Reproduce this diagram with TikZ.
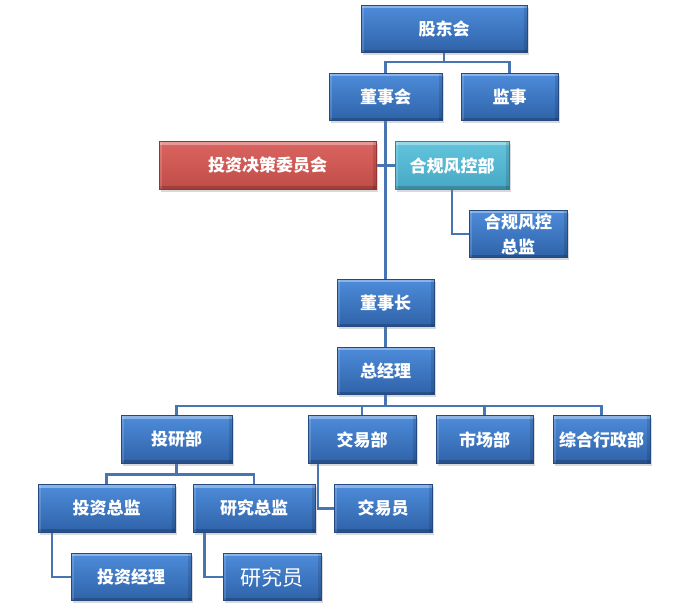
\documentclass[tikz,border=0pt]{standalone}
\usepackage{fontspec}
\newfontfamily\cjk{Noto Sans CJK SC}
\usetikzlibrary{shadows,calc,backgrounds}
\definecolor{bluetop}{RGB}{78,140,218}
\definecolor{bluebot}{RGB}{46,98,168}
\definecolor{blueline}{RGB}{36,74,130}
\definecolor{redtop}{RGB}{218,100,96}
\definecolor{redbot}{RGB}{192,76,72}
\definecolor{redline}{RGB}{150,52,50}
\definecolor{tealtop}{RGB}{98,196,220}
\definecolor{tealbot}{RGB}{70,168,196}
\definecolor{tealline}{RGB}{50,130,155}
\definecolor{conn}{RGB}{72,116,178}
\tikzset{
  box/.style={rectangle, minimum height=47.5, inner sep=0pt, draw=blueline, line width=0.8pt,
    top color=bluetop, bottom color=bluebot, text=white, font=\cjk\bfseries\fontsize{17}{19}\selectfont,
    drop shadow={shadow xshift=2pt, shadow yshift=-2.5pt, opacity=0.3},
    path picture={
      \draw[white, opacity=0.35, line width=3pt] ([yshift=-1.5pt]path picture bounding box.north west) -- ([yshift=-1.5pt]path picture bounding box.north east);
      \draw[black, opacity=0.18, line width=3pt] ([yshift=1.5pt]path picture bounding box.south west) -- ([yshift=1.5pt]path picture bounding box.south east);
      \draw[black, opacity=0.12, line width=3pt] ([xshift=-1.5pt]path picture bounding box.south east) -- ([xshift=-1.5pt]path picture bounding box.north east);
      \draw[white, opacity=0.15, line width=3pt] ([xshift=1.5pt]path picture bounding box.south west) -- ([xshift=1.5pt]path picture bounding box.north west);
    }},
  redbox/.style={box, top color=redtop, bottom color=redbot, draw=redline},
  tealbox/.style={box, top color=tealtop, bottom color=tealbot, draw=tealline},
  conn/.style={draw=conn, line width=2.6pt},
}
\begin{document}
\begin{tikzpicture}[x=1pt, y=-1pt]
\useasboundingbox (0,0) rectangle (687,611);
\node[box, minimum width=166] (gd) at (444,29) {股东会};
\node[box, minimum width=113] (dsh) at (385.5,97) {董事会};
\node[box, minimum width=97] (js) at (509.5,97) {监事};
\node[redbox, minimum width=217] (tzjc) at (267.5,165.5) {投资决策委员会};
\node[tealbox, minimum width=114] (hgfk) at (452,165.5) {合规风控部};
\node[box, minimum width=98, align=center, font=\cjk\bfseries\fontsize{17}{25}\selectfont] (hgzj) at (518,234) {合规风控\\总监};
\node[box, minimum width=97] (dsz) at (385.5,303) {董事长};
\node[box, minimum width=97] (zjl) at (385.5,371) {总经理};
\node[box, minimum width=111] (tyb) at (176.5,439.5) {投研部};
\node[box, minimum width=108] (jyb) at (362,439.5) {交易部};
\node[box, minimum width=97] (scb) at (484.5,439.5) {市场部};
\node[box, minimum width=97] (zhxz) at (601.5,439.5) {综合行政部};
\node[box, minimum width=137] (tzzj) at (106.5,508.5) {投资总监};
\node[box, minimum width=122] (yjzj) at (254,508.5) {研究总监};
\node[box, minimum width=98] (jyy) at (383,508.5) {交易员};
\node[box, minimum width=120] (tzjl) at (131,577) {投资经理};
\node[box, minimum width=98, font=\cjk\fontsize{21}{23}\selectfont] (yjy) at (272,577) {研究员};
\begin{scope}[on background layer]
\draw[conn] (gd.south) -- ++(0,9) -| (dsh.north);
\draw[conn] (gd.south) -- ++(0,9) -| (js.north);
\draw[conn] (dsh.south) -- (dsz.north);
\draw[conn] (tzjc.east) -- (hgfk.west);
\draw[conn] (hgfk.south) |- (hgzj.west);
\draw[conn] (dsz.south) -- (zjl.north);
\draw[conn] (zjl.south) -- ++(0,11) -| (tyb.north);
\draw[conn] (zjl.south) -- ++(0,11) -| (jyb.north);
\draw[conn] (zjl.south) -- ++(0,11) -| (scb.north);
\draw[conn] (zjl.south) -- ++(0,11) -| (zhxz.north);
\draw[conn] (tyb.south) -- ++(0,11) -| (tzzj.north);
\draw[conn] (tyb.south) -- ++(0,11) -| (yjzj.north);
\draw[conn] ($(jyb.south west)+(10.5,0)$) |- (jyy.west);
\draw[conn] ($(tzzj.south west)+(14.5,0)$) |- (tzjl.west);
\draw[conn] ($(yjzj.south west)+(12,0)$) |- (yjy.west);
\end{scope}
\end{tikzpicture}
\end{document}
